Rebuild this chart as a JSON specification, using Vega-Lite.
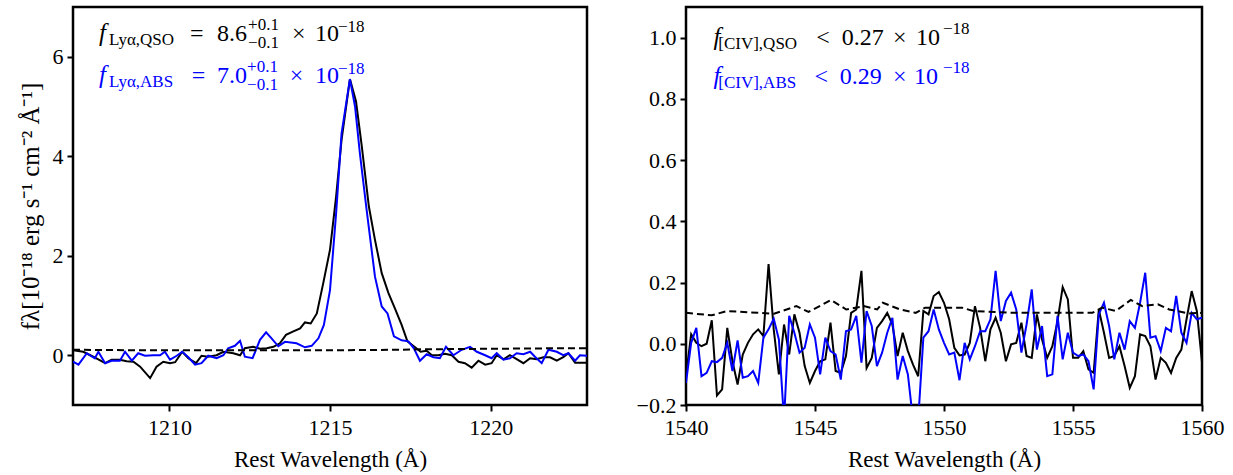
{
"$schema": "https://vega.github.io/schema/vega-lite/v6.json",
"padding": {"left": 16, "top": 5, "right": 5, "bottom": 5},
"background": "white",
"spacing": 45,
"config": {
 "font": "Liberation Serif",
 "view": {"stroke": "black", "strokeWidth": 2.5},
 "axis": {"domain": false, "grid": false, "tickColor": "black", "tickWidth": 2, "tickSize": 6, "labelFont": "Liberation Serif", "labelFontSize": 22, "labelColor": "black", "labelPadding": 4, "labelFlush": false, "labelOverlap": false, "titleFont": "Liberation Serif", "titleFontSize": 23, "titleFontWeight": "normal", "titleColor": "black", "titlePadding": 6},
 "axisX": {"labelPadding": 6, "titlePadding": 10},
 "axisY": {"titlePadding": 9, "titleFontSize": 25},
 "text": {"font": "Liberation Serif"}
},
"datasets": {
 "L": [
  {"s":"QSO","w":1207.0,"f":0.10},{"s":"QSO","w":1207.32,"f":0.07},{"s":"QSO","w":1207.63,"f":-0.03},{"s":"QSO","w":1208.0,"f":-0.16},{"s":"QSO","w":1208.2,"f":-0.09},{"s":"QSO","w":1208.46,"f":-0.09},{"s":"QSO","w":1208.67,"f":-0.12},{"s":"QSO","w":1208.88,"f":-0.13},{"s":"QSO","w":1209.09,"f":-0.23},{"s":"QSO","w":1209.4,"f":-0.46},{"s":"QSO","w":1209.6,"f":-0.23},{"s":"QSO","w":1209.81,"f":-0.13},{"s":"QSO","w":1210.02,"f":-0.16},{"s":"QSO","w":1210.18,"f":-0.14},{"s":"QSO","w":1210.4,"f":0.07},{"s":"QSO","w":1210.59,"f":-0.06},{"s":"QSO","w":1210.83,"f":-0.16},{"s":"QSO","w":1211.0,"f":-0.01},{"s":"QSO","w":1211.2,"f":-0.03},{"s":"QSO","w":1211.47,"f":0.0},{"s":"QSO","w":1211.68,"f":0.07},{"s":"QSO","w":1211.99,"f":0.04},{"s":"QSO","w":1212.2,"f":0.0},{"s":"QSO","w":1212.35,"f":0.14},{"s":"QSO","w":1212.61,"f":0.17},{"s":"QSO","w":1212.82,"f":0.13},{"s":"QSO","w":1213.03,"f":0.14},{"s":"QSO","w":1213.24,"f":0.17},{"s":"QSO","w":1213.44,"f":0.24},{"s":"QSO","w":1213.63,"f":0.41},{"s":"QSO","w":1213.86,"f":0.48},{"s":"QSO","w":1214.07,"f":0.54},{"s":"QSO","w":1214.22,"f":0.66},{"s":"QSO","w":1214.4,"f":0.64},{"s":"QSO","w":1214.59,"f":0.84},{"s":"QSO","w":1214.79,"f":1.45},{"s":"QSO","w":1215.0,"f":2.12},{"s":"QSO","w":1215.19,"f":3.19},{"s":"QSO","w":1215.36,"f":4.33},{"s":"QSO","w":1215.62,"f":5.55},{"s":"QSO","w":1215.81,"f":5.10},{"s":"QSO","w":1215.99,"f":4.2},{"s":"QSO","w":1216.21,"f":2.99},{"s":"QSO","w":1216.4,"f":2.32},{"s":"QSO","w":1216.61,"f":1.65},{"s":"QSO","w":1216.82,"f":1.25},{"s":"QSO","w":1217.02,"f":0.94},{"s":"QSO","w":1217.23,"f":0.61},{"s":"QSO","w":1217.41,"f":0.28},{"s":"QSO","w":1217.61,"f":0.18},{"s":"QSO","w":1217.82,"f":0.07},{"s":"QSO","w":1218.01,"f":0.09},{"s":"QSO","w":1218.17,"f":0.0},{"s":"QSO","w":1218.37,"f":0.0},{"s":"QSO","w":1218.58,"f":0.03},{"s":"QSO","w":1218.79,"f":0.0},{"s":"QSO","w":1219.0,"f":-0.13},{"s":"QSO","w":1219.2,"f":-0.16},{"s":"QSO","w":1219.41,"f":-0.25},{"s":"QSO","w":1219.62,"f":-0.11},{"s":"QSO","w":1219.83,"f":-0.19},{"s":"QSO","w":1220.03,"f":-0.16},{"s":"QSO","w":1220.19,"f":0.0},{"s":"QSO","w":1220.4,"f":-0.08},{"s":"QSO","w":1220.6,"f":0.0},{"s":"QSO","w":1220.81,"f":-0.08},{"s":"QSO","w":1221.02,"f":-0.16},{"s":"QSO","w":1221.23,"f":-0.06},{"s":"QSO","w":1221.43,"f":-0.08},{"s":"QSO","w":1221.64,"f":-0.04},{"s":"QSO","w":1221.85,"f":-0.04},{"s":"QSO","w":1222.06,"f":-0.11},{"s":"QSO","w":1222.26,"f":-0.04},{"s":"QSO","w":1222.42,"f":0.04},{"s":"QSO","w":1222.63,"f":-0.15},{"s":"QSO","w":1222.94,"f":-0.15},{"s":"QSO","w":1223.1,"f":-0.15},
  {"s":"ABS","w":1207.0,"f":-0.13},{"s":"ABS","w":1207.17,"f":-0.19},{"s":"ABS","w":1207.43,"f":0.04},{"s":"ABS","w":1207.68,"f":-0.06},{"s":"ABS","w":1207.79,"f":0.07},{"s":"ABS","w":1208.0,"f":-0.16},{"s":"ABS","w":1208.2,"f":-0.11},{"s":"ABS","w":1208.46,"f":-0.11},{"s":"ABS","w":1208.62,"f":0.07},{"s":"ABS","w":1208.83,"f":-0.11},{"s":"ABS","w":1209.03,"f":0.04},{"s":"ABS","w":1209.24,"f":-0.01},{"s":"ABS","w":1209.5,"f":0.0},{"s":"ABS","w":1209.71,"f":0.0},{"s":"ABS","w":1209.86,"f":0.07},{"s":"ABS","w":1210.02,"f":-0.09},{"s":"ABS","w":1210.23,"f":-0.01},{"s":"ABS","w":1210.4,"f":0.07},{"s":"ABS","w":1210.59,"f":-0.04},{"s":"ABS","w":1210.8,"f":-0.19},{"s":"ABS","w":1211.0,"f":-0.16},{"s":"ABS","w":1211.21,"f":-0.01},{"s":"ABS","w":1211.47,"f":-0.06},{"s":"ABS","w":1211.68,"f":0.0},{"s":"ABS","w":1211.83,"f":0.14},{"s":"ABS","w":1212.04,"f":0.19},{"s":"ABS","w":1212.2,"f":0.29},{"s":"ABS","w":1212.35,"f":-0.03},{"s":"ABS","w":1212.59,"f":-0.06},{"s":"ABS","w":1212.82,"f":0.31},{"s":"ABS","w":1213.01,"f":0.46},{"s":"ABS","w":1213.18,"f":0.34},{"s":"ABS","w":1213.39,"f":0.18},{"s":"ABS","w":1213.6,"f":0.27},{"s":"ABS","w":1213.96,"f":0.24},{"s":"ABS","w":1214.22,"f":0.16},{"s":"ABS","w":1214.43,"f":0.19},{"s":"ABS","w":1214.64,"f":0.34},{"s":"ABS","w":1214.81,"f":0.61},{"s":"ABS","w":1215.0,"f":1.31},{"s":"ABS","w":1215.19,"f":2.85},{"s":"ABS","w":1215.36,"f":4.46},{"s":"ABS","w":1215.62,"f":5.55},{"s":"ABS","w":1215.78,"f":5.0},{"s":"ABS","w":1215.93,"f":4.06},{"s":"ABS","w":1216.14,"f":2.92},{"s":"ABS","w":1216.4,"f":1.58},{"s":"ABS","w":1216.61,"f":0.98},{"s":"ABS","w":1216.79,"f":0.84},{"s":"ABS","w":1216.99,"f":0.38},{"s":"ABS","w":1217.23,"f":0.30},{"s":"ABS","w":1217.44,"f":0.28},{"s":"ABS","w":1217.61,"f":0.14},{"s":"ABS","w":1217.8,"f":-0.11},{"s":"ABS","w":1218.01,"f":0.02},{"s":"ABS","w":1218.22,"f":-0.04},{"s":"ABS","w":1218.42,"f":-0.06},{"s":"ABS","w":1218.61,"f":0.17},{"s":"ABS","w":1218.84,"f":0.0},{"s":"ABS","w":1219.1,"f":0.11},{"s":"ABS","w":1219.36,"f":0.17},{"s":"ABS","w":1219.57,"f":0.07},{"s":"ABS","w":1219.83,"f":0.0},{"s":"ABS","w":1220.03,"f":-0.06},{"s":"ABS","w":1220.19,"f":0.04},{"s":"ABS","w":1220.4,"f":-0.09},{"s":"ABS","w":1220.6,"f":-0.06},{"s":"ABS","w":1220.81,"f":0.04},{"s":"ABS","w":1221.02,"f":0.02},{"s":"ABS","w":1221.23,"f":0.07},{"s":"ABS","w":1221.38,"f":-0.03},{"s":"ABS","w":1221.59,"f":-0.16},{"s":"ABS","w":1221.8,"f":0.11},{"s":"ABS","w":1222.06,"f":0.07},{"s":"ABS","w":1222.26,"f":0.0},{"s":"ABS","w":1222.42,"f":0.04},{"s":"ABS","w":1222.63,"f":-0.11},{"s":"ABS","w":1222.78,"f":0.0},{"s":"ABS","w":1222.99,"f":-0.01},{"s":"ABS","w":1223.1,"f":-0.01},
  {"s":"N","w":1207.0,"f":0.11},{"s":"N","w":1209.0,"f":0.1},{"s":"N","w":1211.0,"f":0.1},{"s":"N","w":1213.0,"f":0.1},{"s":"N","w":1215.0,"f":0.1},{"s":"N","w":1217.0,"f":0.11},{"s":"N","w":1218.0,"f":0.12},{"s":"N","w":1220.0,"f":0.13},{"s":"N","w":1222.0,"f":0.14},{"s":"N","w":1223.0,"f":0.14}
 ],
 "Lr": [{"w": 1215.67}],
 "Lt": [
  {"s":"QSO","k":"i","w":1207.81,"f":6.31,"t":"f"},
  {"s":"QSO","k":"s","w":1208.12,"f":6.24,"t":"Lyα,QSO"},
  {"s":"QSO","k":"m","w":1210.64,"f":6.31,"t":"="},
  {"s":"QSO","k":"m","w":1211.48,"f":6.31,"t":"8.6"},
  {"s":"QSO","k":"s","w":1212.45,"f":6.54,"t":"+0.1"},
  {"s":"QSO","k":"s","w":1212.45,"f":6.18,"t":"−0.1"},
  {"s":"QSO","k":"m","w":1213.82,"f":6.31,"t":"×"},
  {"s":"QSO","k":"m","w":1214.53,"f":6.31,"t":"10"},
  {"s":"QSO","k":"s","w":1215.25,"f":6.50,"t":"−18"},
  {"s":"ABS","k":"i","w":1207.81,"f":5.47,"t":"f"},
  {"s":"ABS","k":"s","w":1208.12,"f":5.40,"t":"Lyα,ABS"},
  {"s":"ABS","k":"m","w":1210.70,"f":5.47,"t":"="},
  {"s":"ABS","k":"m","w":1211.48,"f":5.47,"t":"7.0"},
  {"s":"ABS","k":"s","w":1212.42,"f":5.70,"t":"+0.1"},
  {"s":"ABS","k":"s","w":1212.42,"f":5.34,"t":"−0.1"},
  {"s":"ABS","k":"m","w":1213.75,"f":5.47,"t":"×"},
  {"s":"ABS","k":"m","w":1214.53,"f":5.47,"t":"10"},
  {"s":"ABS","k":"s","w":1215.25,"f":5.66,"t":"−18"}
 ],
 "R": [
  {"s":"QSO","w":1540.0,"f":-0.106},{"s":"QSO","w":1540.2,"f":0.031},{"s":"QSO","w":1540.4,"f":0.003},{"s":"QSO","w":1540.6,"f":-0.008},{"s":"QSO","w":1540.8,"f":0.0},{"s":"QSO","w":1541.0,"f":0.077},{"s":"QSO","w":1541.2,"f":-0.169},{"s":"QSO","w":1541.4,"f":-0.149},{"s":"QSO","w":1541.6,"f":0.052},{"s":"QSO","w":1541.8,"f":-0.057},
  {"s":"QSO","w":1542.0,"f":-0.133},{"s":"QSO","w":1542.2,"f":-0.035},{"s":"QSO","w":1542.4,"f":0.003},{"s":"QSO","w":1542.6,"f":0.031},{"s":"QSO","w":1542.8,"f":0.047},{"s":"QSO","w":1543.0,"f":0.025},{"s":"QSO","w":1543.2,"f":0.26},{"s":"QSO","w":1543.4,"f":0.047},{"s":"QSO","w":1543.6,"f":-0.10},{"s":"QSO","w":1543.8,"f":0.063},
  {"s":"QSO","w":1544.0,"f":-0.035},{"s":"QSO","w":1544.2,"f":0.096},{"s":"QSO","w":1544.4,"f":0.036},{"s":"QSO","w":1544.6,"f":-0.073},{"s":"QSO","w":1544.8,"f":-0.128},{"s":"QSO","w":1545.0,"f":-0.089},{"s":"QSO","w":1545.2,"f":-0.057},{"s":"QSO","w":1545.4,"f":-0.051},{"s":"QSO","w":1545.6,"f":0.069},{"s":"QSO","w":1545.8,"f":-0.089},
  {"s":"QSO","w":1546.0,"f":-0.095},{"s":"QSO","w":1546.2,"f":-0.04},{"s":"QSO","w":1546.4,"f":0.101},{"s":"QSO","w":1546.6,"f":0.112},{"s":"QSO","w":1546.8,"f":0.238},{"s":"QSO","w":1547.0,"f":-0.079},{"s":"QSO","w":1547.2,"f":-0.046},{"s":"QSO","w":1547.4,"f":0.052},{"s":"QSO","w":1547.6,"f":0.074},{"s":"QSO","w":1547.8,"f":0.101},
  {"s":"QSO","w":1548.0,"f":0.063},{"s":"QSO","w":1548.2,"f":-0.04},{"s":"QSO","w":1548.4,"f":0.036},{"s":"QSO","w":1548.6,"f":-0.024},{"s":"QSO","w":1548.8,"f":-0.068},{"s":"QSO","w":1549.0,"f":-0.106},{"s":"QSO","w":1549.2,"f":0.107},{"s":"QSO","w":1549.4,"f":0.096},{"s":"QSO","w":1549.6,"f":0.156},{"s":"QSO","w":1549.8,"f":0.169},
  {"s":"QSO","w":1550.0,"f":0.134},{"s":"QSO","w":1550.2,"f":0.08},{"s":"QSO","w":1550.4,"f":-0.013},{"s":"QSO","w":1550.6,"f":-0.038},{"s":"QSO","w":1550.8,"f":-0.035},{"s":"QSO","w":1551.0,"f":0.003},{"s":"QSO","w":1551.2,"f":0.123},{"s":"QSO","w":1551.4,"f":0.052},{"s":"QSO","w":1551.6,"f":-0.057},{"s":"QSO","w":1551.8,"f":0.047},
  {"s":"QSO","w":1552.0,"f":0.085},{"s":"QSO","w":1552.2,"f":0.036},{"s":"QSO","w":1552.4,"f":-0.057},{"s":"QSO","w":1552.6,"f":-0.002},{"s":"QSO","w":1552.8,"f":0.003},{"s":"QSO","w":1553.0,"f":0.069},{"s":"QSO","w":1553.2,"f":-0.04},{"s":"QSO","w":1553.4,"f":-0.046},{"s":"QSO","w":1553.6,"f":0.096},{"s":"QSO","w":1553.8,"f":0.014},
  {"s":"QSO","w":1554.0,"f":-0.046},{"s":"QSO","w":1554.2,"f":-0.008},{"s":"QSO","w":1554.4,"f":0.074},{"s":"QSO","w":1554.6,"f":0.185},{"s":"QSO","w":1554.8,"f":0.145},{"s":"QSO","w":1555.0,"f":-0.046},{"s":"QSO","w":1555.2,"f":-0.046},{"s":"QSO","w":1555.4,"f":-0.024},{"s":"QSO","w":1555.6,"f":-0.084},{"s":"QSO","w":1555.8,"f":-0.095},
  {"s":"QSO","w":1556.0,"f":0.112},{"s":"QSO","w":1556.2,"f":0.036},{"s":"QSO","w":1556.4,"f":-0.046},{"s":"QSO","w":1556.6,"f":-0.04},{"s":"QSO","w":1556.8,"f":-0.008},{"s":"QSO","w":1557.0,"f":-0.073},{"s":"QSO","w":1557.2,"f":-0.144},{"s":"QSO","w":1557.4,"f":-0.106},{"s":"QSO","w":1557.6,"f":0.031},{"s":"QSO","w":1557.8,"f":0.025},
  {"s":"QSO","w":1558.0,"f":-0.008},{"s":"QSO","w":1558.2,"f":-0.117},{"s":"QSO","w":1558.4,"f":-0.046},{"s":"QSO","w":1558.6,"f":-0.062},{"s":"QSO","w":1558.8,"f":-0.095},{"s":"QSO","w":1559.0,"f":-0.046},{"s":"QSO","w":1559.2,"f":-0.019},{"s":"QSO","w":1559.4,"f":0.08},{"s":"QSO","w":1559.6,"f":0.172},{"s":"QSO","w":1559.8,"f":0.107},{"s":"QSO","w":1560.0,"f":-0.06},
  {"s":"ABS","w":1540.0,"f":-0.128},{"s":"ABS","w":1540.2,"f":0.003},{"s":"ABS","w":1540.4,"f":0.052},{"s":"ABS","w":1540.6,"f":-0.106},{"s":"ABS","w":1540.8,"f":-0.095},{"s":"ABS","w":1541.0,"f":-0.057},{"s":"ABS","w":1541.2,"f":-0.06},{"s":"ABS","w":1541.4,"f":-0.046},{"s":"ABS","w":1541.6,"f":0.003},{"s":"ABS","w":1541.8,"f":-0.089},
  {"s":"ABS","w":1542.0,"f":0.011},{"s":"ABS","w":1542.2,"f":-0.111},{"s":"ABS","w":1542.4,"f":-0.106},{"s":"ABS","w":1542.6,"f":-0.089},{"s":"ABS","w":1542.8,"f":-0.128},{"s":"ABS","w":1543.0,"f":0.02},{"s":"ABS","w":1543.2,"f":0.047},{"s":"ABS","w":1543.4,"f":0.082},{"s":"ABS","w":1543.6,"f":0.014},{"s":"ABS","w":1543.8,"f":-0.25},
  {"s":"ABS","w":1544.0,"f":0.091},{"s":"ABS","w":1544.2,"f":0.036},{"s":"ABS","w":1544.4,"f":-0.029},{"s":"ABS","w":1544.6,"f":-0.013},{"s":"ABS","w":1544.8,"f":0.063},{"s":"ABS","w":1545.0,"f":0.02},{"s":"ABS","w":1545.2,"f":-0.10},{"s":"ABS","w":1545.4,"f":0.02},{"s":"ABS","w":1545.6,"f":-0.024},{"s":"ABS","w":1545.8,"f":-0.035},
  {"s":"ABS","w":1546.0,"f":-0.117},{"s":"ABS","w":1546.2,"f":0.041},{"s":"ABS","w":1546.4,"f":0.047},{"s":"ABS","w":1546.6,"f":0.091},{"s":"ABS","w":1546.8,"f":-0.062},{"s":"ABS","w":1547.0,"f":0.107},{"s":"ABS","w":1547.2,"f":0.058},{"s":"ABS","w":1547.4,"f":-0.073},{"s":"ABS","w":1547.6,"f":-0.029},{"s":"ABS","w":1547.8,"f":0.036},
  {"s":"ABS","w":1548.0,"f":0.085},{"s":"ABS","w":1548.2,"f":-0.117},{"s":"ABS","w":1548.4,"f":-0.04},{"s":"ABS","w":1548.6,"f":-0.10},{"s":"ABS","w":1548.8,"f":-0.25},{"s":"ABS","w":1549.0,"f":-0.25},{"s":"ABS","w":1549.2,"f":0.02},{"s":"ABS","w":1549.4,"f":0.041},{"s":"ABS","w":1549.6,"f":0.112},{"s":"ABS","w":1549.8,"f":0.047},
  {"s":"ABS","w":1550.0,"f":0.003},{"s":"ABS","w":1550.2,"f":-0.035},{"s":"ABS","w":1550.4,"f":-0.029},{"s":"ABS","w":1550.6,"f":-0.119},{"s":"ABS","w":1550.8,"f":0.003},{"s":"ABS","w":1551.0,"f":-0.051},{"s":"ABS","w":1551.2,"f":-0.008},{"s":"ABS","w":1551.4,"f":0.041},{"s":"ABS","w":1551.6,"f":0.041},{"s":"ABS","w":1551.8,"f":0.08},
  {"s":"ABS","w":1552.0,"f":0.238},{"s":"ABS","w":1552.2,"f":0.074},{"s":"ABS","w":1552.4,"f":0.14},{"s":"ABS","w":1552.6,"f":0.167},{"s":"ABS","w":1552.8,"f":0.112},{"s":"ABS","w":1553.0,"f":-0.029},{"s":"ABS","w":1553.2,"f":0.063},{"s":"ABS","w":1553.4,"f":0.178},{"s":"ABS","w":1553.6,"f":-0.019},{"s":"ABS","w":1553.8,"f":0.058},
  {"s":"ABS","w":1554.0,"f":-0.106},{"s":"ABS","w":1554.2,"f":-0.10},{"s":"ABS","w":1554.4,"f":0.091},{"s":"ABS","w":1554.6,"f":-0.051},{"s":"ABS","w":1554.8,"f":0.036},{"s":"ABS","w":1555.0,"f":-0.029},{"s":"ABS","w":1555.2,"f":-0.04},{"s":"ABS","w":1555.4,"f":-0.035},{"s":"ABS","w":1555.6,"f":-0.057},{"s":"ABS","w":1555.8,"f":-0.149},
  {"s":"ABS","w":1556.0,"f":0.096},{"s":"ABS","w":1556.2,"f":0.134},{"s":"ABS","w":1556.4,"f":0.058},{"s":"ABS","w":1556.6,"f":-0.051},{"s":"ABS","w":1556.8,"f":0.036},{"s":"ABS","w":1557.0,"f":-0.019},{"s":"ABS","w":1557.2,"f":0.074},{"s":"ABS","w":1557.4,"f":0.052},{"s":"ABS","w":1557.6,"f":0.134},{"s":"ABS","w":1557.8,"f":0.232},
  {"s":"ABS","w":1558.0,"f":0.02},{"s":"ABS","w":1558.2,"f":0.025},{"s":"ABS","w":1558.4,"f":-0.024},{"s":"ABS","w":1558.6,"f":0.052},{"s":"ABS","w":1558.8,"f":0.041},{"s":"ABS","w":1559.0,"f":0.156},{"s":"ABS","w":1559.2,"f":0.036},{"s":"ABS","w":1559.4,"f":0.003},{"s":"ABS","w":1559.6,"f":0.101},{"s":"ABS","w":1559.8,"f":0.08},{"s":"ABS","w":1560.0,"f":0.085},
  {"s":"N","w":1540.0,"f":0.101},{"s":"N","w":1541.0,"f":0.093},{"s":"N","w":1541.59,"f":0.107},{"s":"N","w":1542.79,"f":0.101},{"s":"N","w":1543.41,"f":0.098},{"s":"N","w":1544.28,"f":0.123},{"s":"N","w":1544.75,"f":0.104},{"s":"N","w":1545.62,"f":0.143},{"s":"N","w":1546.21,"f":0.112},{"s":"N","w":1546.89,"f":0.123},{"s":"N","w":1547.41,"f":0.112},{"s":"N","w":1547.63,"f":0.134},{"s":"N","w":1548.3,"f":0.112},{"s":"N","w":1548.9,"f":0.101},{"s":"N","w":1549.27,"f":0.118},{"s":"N","w":1550.69,"f":0.118},{"s":"N","w":1551.13,"f":0.107},{"s":"N","w":1552.77,"f":0.101},{"s":"N","w":1555.0,"f":0.101},{"s":"N","w":1555.75,"f":0.101},{"s":"N","w":1556.13,"f":0.118},{"s":"N","w":1556.65,"f":0.107},{"s":"N","w":1557.24,"f":0.143},{"s":"N","w":1557.69,"f":0.123},{"s":"N","w":1558.29,"f":0.129},{"s":"N","w":1558.73,"f":0.112},{"s":"N","w":1559.48,"f":0.099},{"s":"N","w":1560.0,"f":0.101}
 ],
 "Rr": [{"w": 1548.19}, {"w": 1550.77}],
 "Rt": [
  {"s":"QSO","k":"i","w":1541.07,"f":0.976,"t":"f"},
  {"s":"QSO","k":"s","w":1541.25,"f":0.962,"t":"[CIV],QSO"},
  {"s":"QSO","k":"m","w":1545.05,"f":0.976,"t":"<"},
  {"s":"QSO","k":"m","w":1546.04,"f":0.976,"t":"0.27"},
  {"s":"QSO","k":"m","w":1548.02,"f":0.976,"t":"×"},
  {"s":"QSO","k":"m","w":1548.91,"f":0.976,"t":"10"},
  {"s":"QSO","k":"s","w":1549.96,"f":1.012,"t":"−18"},
  {"s":"ABS","k":"i","w":1541.07,"f":0.849,"t":"f"},
  {"s":"ABS","k":"s","w":1541.25,"f":0.835,"t":"[CIV],ABS"},
  {"s":"ABS","k":"m","w":1544.98,"f":0.849,"t":"<"},
  {"s":"ABS","k":"m","w":1545.96,"f":0.849,"t":"0.29"},
  {"s":"ABS","k":"m","w":1548.02,"f":0.849,"t":"×"},
  {"s":"ABS","k":"m","w":1548.84,"f":0.849,"t":"10"},
  {"s":"ABS","k":"s","w":1549.96,"f":0.885,"t":"−18"}
 ]
},
"hconcat": [
 {
  "width": 514, "height": 398,
  "encoding": {
   "x": {"field": "w", "type": "quantitative", "scale": {"domain": [1207, 1223], "nice": false, "zero": false}, "axis": {"values": [1210, 1215, 1220], "format": "d"}, "title": "Rest Wavelength (Å)"},
   "y": {"field": "f", "type": "quantitative", "scale": {"domain": [-1, 7], "nice": false, "zero": false}, "axis": {"values": [0, 2, 4, 6], "format": "d"}, "title": "fλ[10⁻¹⁸ erg s⁻¹ cm⁻² Å⁻¹]"}
  },
  "layer": [
   {"data": {"name": "L"}, "transform": [{"filter": "datum.s == 'QSO'"}], "mark": {"type": "line", "color": "black", "strokeWidth": 2, "clip": true}},
   {"data": {"name": "L"}, "transform": [{"filter": "datum.s == 'ABS'"}], "mark": {"type": "line", "color": "blue", "strokeWidth": 2, "clip": true}},
   {"data": {"name": "L"}, "transform": [{"filter": "datum.s == 'N'"}], "mark": {"type": "line", "color": "black", "strokeWidth": 2, "strokeDash": [7, 4], "clip": true}},
   {"data": {"name": "Lr"}, "mark": {"type": "rule", "color": "gray", "strokeWidth": 2, "strokeDash": [6, 4]}, "encoding": {"y": {"datum": -1}, "y2": {"datum": 7}}},
   {"data": {"name": "Lt"}, "transform": [{"filter": "datum.k == 'i'"}], "mark": {"type": "text", "align": "left", "baseline": "alphabetic", "fontSize": 25, "fontStyle": "italic"}, "encoding": {"text": {"field": "t"}, "color": {"field": "s", "type": "nominal", "scale": {"domain": ["QSO", "ABS"], "range": ["black", "blue"]}, "legend": null}}},
   {"data": {"name": "Lt"}, "transform": [{"filter": "datum.k == 'm'"}], "mark": {"type": "text", "align": "left", "baseline": "alphabetic", "fontSize": 24}, "encoding": {"text": {"field": "t"}, "color": {"field": "s", "type": "nominal", "scale": {"domain": ["QSO", "ABS"], "range": ["black", "blue"]}, "legend": null}}},
   {"data": {"name": "Lt"}, "transform": [{"filter": "datum.k == 's'"}], "mark": {"type": "text", "align": "left", "baseline": "alphabetic", "fontSize": 17}, "encoding": {"text": {"field": "t"}, "color": {"field": "s", "type": "nominal", "scale": {"domain": ["QSO", "ABS"], "range": ["black", "blue"]}, "legend": null}}}
  ]
 },
 {
  "width": 516, "height": 398,
  "encoding": {
   "x": {"field": "w", "type": "quantitative", "scale": {"domain": [1540, 1560], "nice": false, "zero": false}, "axis": {"values": [1540, 1545, 1550, 1555, 1560], "format": "d"}, "title": "Rest Wavelength (Å)"},
   "y": {"field": "f", "type": "quantitative", "scale": {"domain": [-0.2, 1.1], "nice": false, "zero": false}, "axis": {"values": [-0.2, 0, 0.2, 0.4, 0.6, 0.8, 1.0], "format": ".1f"}, "title": null}
  },
  "layer": [
   {"data": {"name": "R"}, "transform": [{"filter": "datum.s == 'QSO'"}], "mark": {"type": "line", "color": "black", "strokeWidth": 2, "clip": true}},
   {"data": {"name": "R"}, "transform": [{"filter": "datum.s == 'ABS'"}], "mark": {"type": "line", "color": "blue", "strokeWidth": 2, "clip": true}},
   {"data": {"name": "R"}, "transform": [{"filter": "datum.s == 'N'"}], "mark": {"type": "line", "color": "black", "strokeWidth": 2, "strokeDash": [7, 4], "clip": true}},
   {"data": {"name": "Rr"}, "mark": {"type": "rule", "color": "gray", "strokeWidth": 2, "strokeDash": [6, 4]}, "encoding": {"y": {"datum": -0.2}, "y2": {"datum": 1.1}}},
   {"data": {"name": "Rt"}, "transform": [{"filter": "datum.k == 'i'"}], "mark": {"type": "text", "align": "left", "baseline": "alphabetic", "fontSize": 25, "fontStyle": "italic"}, "encoding": {"text": {"field": "t"}, "color": {"field": "s", "type": "nominal", "scale": {"domain": ["QSO", "ABS"], "range": ["black", "blue"]}, "legend": null}}},
   {"data": {"name": "Rt"}, "transform": [{"filter": "datum.k == 'm'"}], "mark": {"type": "text", "align": "left", "baseline": "alphabetic", "fontSize": 24}, "encoding": {"text": {"field": "t"}, "color": {"field": "s", "type": "nominal", "scale": {"domain": ["QSO", "ABS"], "range": ["black", "blue"]}, "legend": null}}},
   {"data": {"name": "Rt"}, "transform": [{"filter": "datum.k == 's'"}], "mark": {"type": "text", "align": "left", "baseline": "alphabetic", "fontSize": 17}, "encoding": {"text": {"field": "t"}, "color": {"field": "s", "type": "nominal", "scale": {"domain": ["QSO", "ABS"], "range": ["black", "blue"]}, "legend": null}}}
  ]
 }
]
}
